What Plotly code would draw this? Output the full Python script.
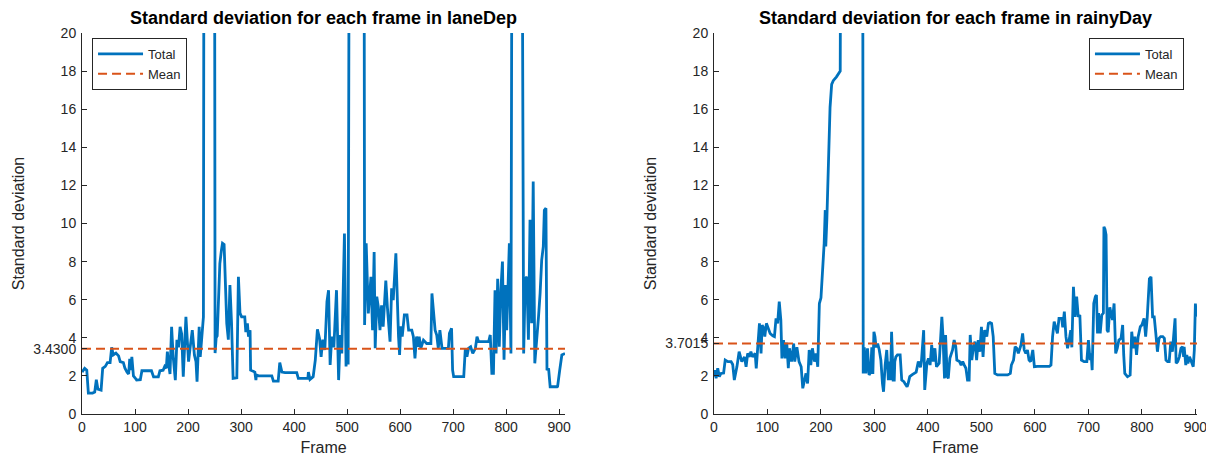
import plotly.graph_objects as go

# laneDep: per-frame standard deviation (values above 20 run off the top of the axis)
lane_frames = [
    0, 5, 9, 12, 20, 24, 27, 30, 36, 39, 44, 48, 53, 56, 59, 64, 69, 72, 78, 81,
    85, 88, 90, 92, 94, 97, 100, 103, 110, 113, 131, 135, 144, 147, 153, 156, 159, 161, 164, 166,
    169, 172, 176, 179, 182, 185, 188, 191, 196, 201, 204, 208, 212, 215, 217, 221, 223, 226, 229, 230,
    250, 251, 253, 255, 260, 263, 265, 268, 273, 276, 279, 282, 285, 292, 295, 298, 301, 307, 309, 312,
    314, 317, 318, 326, 328, 329, 333, 358, 361, 370, 373, 377, 383, 405, 408, 426, 427, 430, 436, 440,
    444, 448, 451, 454, 458, 462, 465, 468, 471, 475, 480, 484, 487, 490, 495, 498, 501, 502, 504, 532,
    533, 536, 540, 545, 548, 551, 553, 556, 559, 562, 565, 568, 573, 576, 581, 584, 587, 592, 594, 597,
    599, 601, 604, 608, 613, 616, 622, 625, 628, 631, 635, 636, 639, 644, 650, 658, 660, 663, 666, 669,
    672, 675, 679, 691, 693, 697, 699, 701, 720, 723, 726, 729, 733, 737, 742, 745, 748, 767, 770, 773,
    776, 779, 781, 784, 787, 790, 793, 796, 799, 801, 804, 806, 809, 811, 830, 833, 836, 839, 842, 845,
    848, 851, 854, 858, 861, 864, 867, 870, 872, 875, 877, 880, 883, 896, 897, 901, 905, 911,
]
lane_std = [
    2.2, 2.4, 2.3, 1.1, 1.1, 1.15, 1.8, 1.3, 1.25, 2.4, 2.5, 2.7, 2.7, 3.5, 3.1, 3.2, 3.05, 2.75, 2.7, 2.4,
    2.2, 2.1, 2.9, 2.3, 3.0, 2.0, 1.9, 1.78, 1.8, 2.27, 2.27, 1.95, 1.95, 2.27, 2.3, 2.5, 2.4, 3.27, 2.5, 2.1,
    4.58, 3.0, 1.78, 3.9, 3.5, 4.58, 4.2, 1.96, 5.1, 2.75, 3.5, 4.4, 3.1, 2.75, 1.7, 4.58, 3.0, 3.9, 5.1, 28.0,
    28.0, 3.2, 4.0, 4.1, 7.9, 8.6, 8.96, 8.9, 4.76, 3.9, 6.77, 4.8, 1.87, 1.9, 7.2, 5.3, 5.1, 5.1, 4.3, 4.76,
    4.06, 4.4, 2.3, 2.2, 1.78, 2.05, 2.0, 2.0, 1.73, 1.73, 2.7, 2.2, 2.17, 2.17, 1.87, 1.87, 2.2, 1.82, 1.96, 2.83,
    4.44, 3.97, 3.0, 3.9, 3.36, 5.9, 6.5, 2.57, 4.06, 3.5, 6.5, 1.78, 4.15, 3.18, 9.48, 2.5, 4.3, 2.6, 28.0, 28.0,
    4.67, 8.96, 5.28, 7.2, 4.4, 8.5, 3.45, 6.16, 5.6, 4.4, 5.7, 4.58, 7.0, 5.6, 3.8, 6.6, 5.98, 8.43, 6.33, 4.06,
    3.1, 4.6, 4.06, 5.2, 5.2, 4.4, 4.4, 4.06, 2.92, 4.06, 3.53, 4.06, 3.45, 3.88, 3.7, 3.7, 6.33, 5.1, 4.4, 4.15,
    3.45, 4.4, 3.45, 3.45, 4.23, 4.5, 2.3, 1.96, 1.96, 3.45, 3.0, 3.45, 3.53, 3.18, 3.45, 4.06, 3.8, 3.8, 4.15, 2.13,
    2.13, 6.5, 3.18, 7.1, 3.53, 6.5, 8.0, 2.85, 6.77, 4.4, 6.86, 8.96, 3.18, 28.0, 28.0, 3.18, 7.1, 7.2, 3.9, 10.2,
    4.76, 12.2, 2.66, 4.4, 5.1, 6.33, 8.08, 8.78, 10.7, 10.8, 2.3, 2.4, 1.43, 1.43, 1.45, 2.3, 3.1, 3.18,
]
lane_mean = 3.4300

# rainyDay: per-frame standard deviation
rainy_frames = [
    0, 2, 4, 7, 10, 13, 18, 21, 26, 32, 35, 38, 43, 47, 52, 57, 60, 63, 66, 69,
    72, 77, 79, 82, 85, 88, 90, 93, 95, 98, 102, 105, 110, 113, 116, 119, 122, 125, 127, 130,
    133, 136, 139, 141, 145, 149, 151, 155, 159, 163, 166, 169, 172, 175, 178, 181, 184, 188, 191, 194,
    197, 200, 203, 206, 208, 209, 211, 214, 217, 220, 223, 229, 236, 237, 278, 279, 281, 284, 287, 290,
    293, 295, 297, 299, 301, 303, 306, 309, 312, 315, 317, 320, 323, 326, 328, 330, 332, 335, 337, 338,
    340, 343, 348, 351, 355, 357, 361, 363, 366, 370, 374, 378, 382, 386, 388, 392, 394, 398, 401, 404,
    407, 410, 413, 416, 421, 426, 428, 431, 433, 436, 438, 441, 443, 446, 449, 452, 454, 459, 462, 465,
    468, 471, 474, 477, 479, 482, 485, 488, 491, 494, 497, 500, 503, 506, 510, 513, 516, 519, 522, 525,
    530, 549, 554, 556, 560, 563, 566, 569, 574, 577, 580, 583, 586, 589, 592, 596, 599, 605, 627, 630,
    633, 636, 639, 642, 645, 650, 652, 655, 658, 661, 664, 667, 669, 672, 675, 678, 681, 684, 687, 692,
    697, 700, 703, 705, 707, 710, 713, 715, 717, 719, 722, 725, 728, 729, 731, 733, 735, 737, 740, 742,
    745, 748, 751, 754, 757, 761, 764, 766, 768, 773, 778, 781, 784, 787, 790, 793, 797, 800, 804, 807,
    810, 814, 817, 820, 823, 826, 829, 832, 835, 839, 842, 845, 848, 851, 854, 857, 860, 862, 864, 867,
    870, 873, 876, 878, 879, 882, 884, 886, 889, 893, 896, 898, 900, 902,
]
rainy_std = [
    1.96, 2.3, 1.87, 2.4, 1.96, 2.13, 2.15, 2.83, 2.75, 2.75, 2.6, 1.78, 2.5, 3.27, 2.75, 3.0, 2.48, 3.18, 3.0, 3.27,
    3.0, 3.18, 2.4, 3.88, 4.76, 3.18, 4.67, 4.5, 4.06, 4.76, 4.5, 4.23, 4.1, 4.06, 5.02, 4.76, 5.9, 4.93, 2.92, 3.88,
    2.92, 3.74, 2.4, 3.45, 2.75, 3.7, 2.75, 3.5, 2.75, 2.48, 1.35, 1.78, 2.13, 1.6, 3.36, 2.57, 3.45, 2.75, 3.18, 2.48,
    5.8, 6.1, 7.38, 8.96, 10.7, 8.8, 10.2, 13.3, 16.1, 17.3, 17.5, 17.7, 18.0, 28.0, 28.0, 2.13, 3.5, 2.13, 3.45, 2.05,
    2.2, 3.5, 2.1, 4.32, 4.06, 3.5, 3.7, 3.36, 2.83, 1.6, 1.17, 2.57, 3.36, 1.78, 2.75, 1.78, 4.32, 1.78, 1.78, 2.75,
    3.0, 3.1, 3.1, 1.78, 1.7, 1.6, 1.43, 1.6, 1.96, 2.05, 2.13, 2.2, 2.75, 2.45, 2.83, 4.4, 1.26, 2.66, 2.92, 2.57,
    3.62, 2.75, 3.45, 2.48, 2.66, 5.1, 4.15, 1.87, 4.15, 1.96, 1.87, 2.92, 3.1, 3.36, 3.88, 3.53, 2.83, 2.75, 2.57, 2.75,
    2.57, 2.4, 1.78, 1.78, 4.15, 2.83, 3.53, 3.8, 2.83, 3.88, 3.27, 4.58, 3.0, 4.4, 4.06, 4.76, 4.8, 4.76, 4.06, 2.13,
    2.05, 2.05, 2.13, 2.57, 2.83, 3.53, 3.45, 3.18, 3.62, 4.23, 3.36, 3.18, 3.36, 2.83, 2.75, 3.36, 2.48, 2.5, 2.5, 2.57,
    4.06, 4.85, 4.55, 4.23, 5.02, 5.02, 4.55, 5.37, 4.06, 3.45, 3.88, 4.4, 3.5, 6.68, 5.1, 6.16, 5.1, 5.2, 2.83, 2.75,
    2.75, 3.88, 2.83, 3.18, 2.3, 5.8, 6.16, 6.25, 4.23, 5.3, 4.23, 5.2, 5.3, 9.83, 9.7, 9.4, 4.4, 4.3, 5.6, 5.3,
    4.93, 5.8, 3.18, 3.45, 3.88, 3.97, 4.67, 3.1, 2.13, 1.96, 2.05, 4.32, 3.45, 4.06, 3.1, 4.06, 4.58, 4.67, 5.02, 4.06,
    5.1, 7.1, 7.2, 5.1, 5.1, 4.23, 3.27, 3.97, 4.06, 4.06, 3.97, 2.83, 2.75, 2.75, 3.8, 3.27, 4.5, 5.02, 2.66, 2.75,
    3.0, 3.45, 3.53, 3.0, 3.53, 2.57, 3.1, 2.66, 3.0, 2.75, 2.48, 3.36, 5.8, 5.1,
]
rainy_mean = 3.7015

y_ticks = [0, 2, 4, 6, 8, 10, 12, 14, 16, 18, 20]
x_ticks = [0, 100, 200, 300, 400, 500, 600, 700, 800, 900]
lane_xmax = 911
rainy_xmax = 903

BLUE = "#0072BD"
ORANGE = "#D95319"
AXC = "#262626"
FONT = "Liberation Sans, Arial, Helvetica, sans-serif"

fig = go.Figure()

fig.add_trace(go.Scatter(x=lane_frames, y=lane_std, mode="lines", name="Total",
                         line=dict(color=BLUE, width=2.8), xaxis="x", yaxis="y",
                         legend="legend"))
fig.add_trace(go.Scatter(x=[0, lane_xmax], y=[lane_mean, lane_mean], mode="lines", name="Mean",
                         line=dict(color=ORANGE, width=2, dash="9px,5px"), xaxis="x", yaxis="y",
                         legend="legend"))
fig.add_trace(go.Scatter(x=rainy_frames, y=rainy_std, mode="lines", name="Total",
                         line=dict(color=BLUE, width=2.8), xaxis="x2", yaxis="y2",
                         legend="legend2"))
fig.add_trace(go.Scatter(x=[0, rainy_xmax], y=[rainy_mean, rainy_mean], mode="lines", name="Mean",
                         line=dict(color=ORANGE, width=2, dash="9px,5px"), xaxis="x2", yaxis="y2",
                         legend="legend2"))


def y_axis(mean, anchor):
    vals = sorted(y_ticks + [mean])
    text = [f"{mean:.4f}" if v == mean else str(v) for v in vals]
    return dict(
        range=[0, 20], tickvals=vals, ticktext=text, ticks="inside", ticklen=5,
        tickcolor=AXC, showline=True, linecolor=AXC, linewidth=1, mirror=False,
        showgrid=False, zeroline=False, anchor=anchor,
        tickfont=dict(family=FONT, size=14, color=AXC), ticklabelstandoff=2,
        title=dict(text="Standard deviation", font=dict(family=FONT, size=16, color=AXC),
                   standoff=4),
        automargin=False,
    )


def x_axis(xmax, domain, anchor):
    return dict(
        range=[0, xmax], domain=domain, tickvals=x_ticks, ticks="inside", ticklen=5,
        tickcolor=AXC, showline=True, linecolor=AXC, linewidth=1, mirror=False,
        showgrid=False, zeroline=False, anchor=anchor, ticklabeloverflow="allow",
        tickfont=dict(family=FONT, size=14, color=AXC),
        title=dict(text="Frame", font=dict(family=FONT, size=16, color=AXC), standoff=8),
        automargin=False,
    )


legend_style = dict(
    bgcolor="white", bordercolor=AXC, borderwidth=1, itemwidth=45,
    font=dict(family=FONT, size=13, color=AXC), tracegroupgap=0,
    yanchor="top", xref="paper", yref="paper",
)

fig.update_layout(
    width=1206, height=460, template="none",
    paper_bgcolor="white", plot_bgcolor="white",
    margin=dict(l=82, r=9, t=33, b=46),
    xaxis=x_axis(lane_xmax, [0, 0.4332], "y"),
    yaxis=y_axis(lane_mean, "x"),
    xaxis2=x_axis(rainy_xmax, [0.5668, 1.0], "y2"),
    yaxis2=y_axis(rainy_mean, "x2"),
    legend=dict(x=0.009, y=0.987, xanchor="left", **legend_style),
    legend2=dict(x=0.9883, y=0.987, xanchor="right", **legend_style),
    showlegend=True,
    annotations=[
        dict(text="<b>Standard deviation for each frame in laneDep</b>", x=0.5, y=1.0,
             xref="x domain", yref="y domain", xanchor="center", yanchor="middle", yshift=15,
             showarrow=False, font=dict(family=FONT, size=18, color="black")),
        dict(text="<b>Standard deviation for each frame in rainyDay</b>", x=0.5, y=1.0,
             xref="x2 domain", yref="y2 domain", xanchor="center", yanchor="middle", yshift=15,
             showarrow=False, font=dict(family=FONT, size=18, color="black")),
    ],
)

fig.write_html("out.html")
